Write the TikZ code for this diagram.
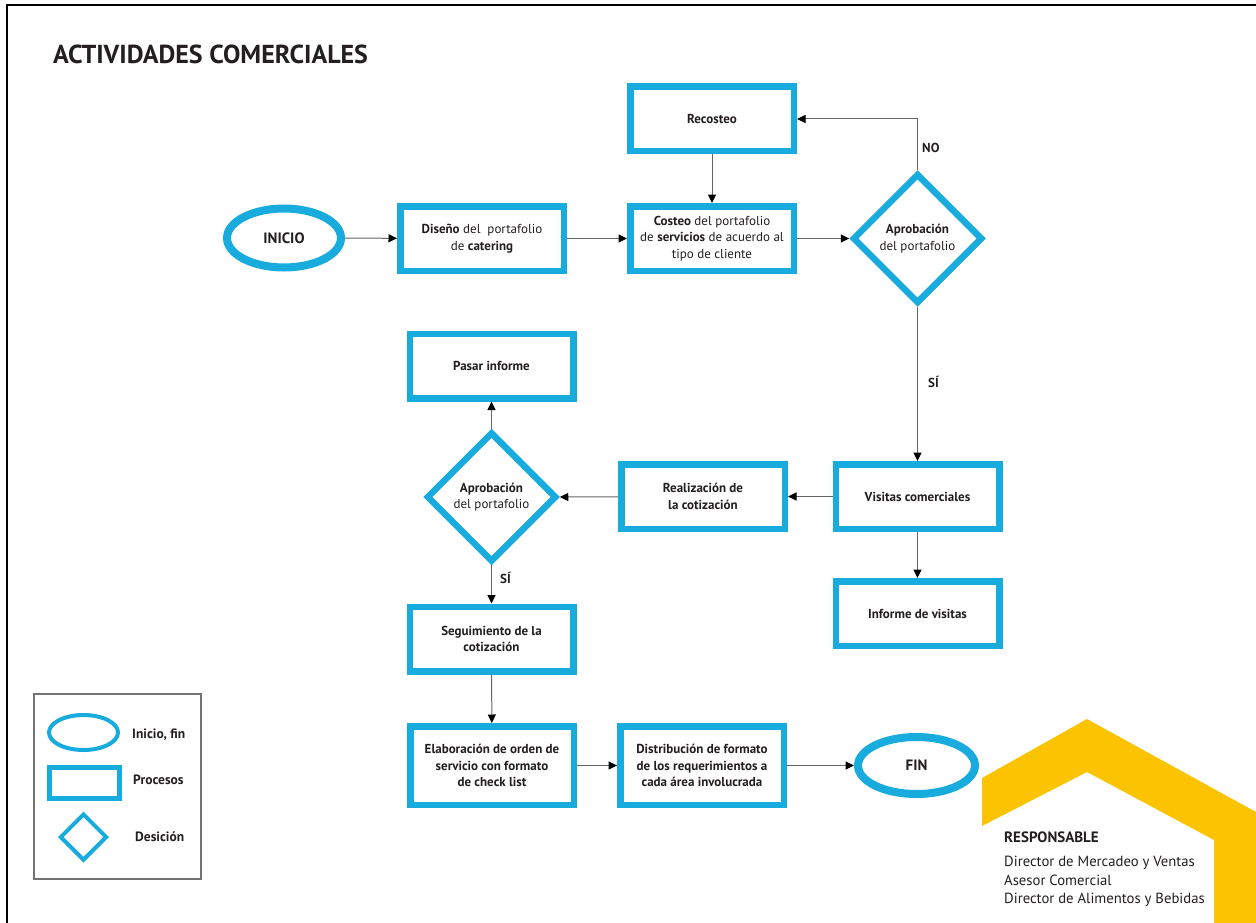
\documentclass[tikz,border=0pt]{standalone}
\usepackage{fontspec}
\setmainfont{PT Sans}
\usetikzlibrary{arrows.meta,shapes.geometric}
\definecolor{flowblue}{RGB}{24,171,222}
\definecolor{houseyellow}{RGB}{252,196,0}
\definecolor{ink}{RGB}{35,31,32}
\newcommand\flowfont{\fontsize{13}{16.7}\selectfont}
\tikzset{
  procbox/.style={draw=flowblue, line width=6.5pt, minimum width=163.5pt,
    minimum height=64.5pt, inner sep=2pt, align=center, text=ink, font=\flowfont},
  tallbox/.style={procbox, minimum height=78.5pt},
  termnode/.style={ellipse, draw=flowblue, line width=8pt, inner sep=0pt,
    text=ink, font=\fontsize{15}{18}\selectfont\bfseries},
  decision/.style={diamond, aspect=1, draw=flowblue, line width=6.5pt,
    minimum width=130pt, minimum height=130pt, inner sep=0pt, align=center,
    text=ink, font=\flowfont},
  flow/.style={draw=black!60, line width=1pt,
    -{Triangle[length=8.5pt,width=8pt,color=black]}},
  lbl/.style={anchor=west, text=ink, font=\fontsize{13}{15}\selectfont\bfseries, inner sep=0pt},
  legendtxt/.style={anchor=west, text=ink, font=\fontsize{13.5}{15}\selectfont\bfseries, inner sep=0pt}
}
\begin{document}
\begin{tikzpicture}[x=1pt,y=-1pt]
\useasboundingbox (0,0) rectangle (1256,923);
\fill[white] (0,0) rectangle (1256,923);

% page frame
\draw[line width=2pt] (7,923) -- (7,5) -- (1256,5);

% title
\node[anchor=west, text=ink, inner sep=0pt, font=\fontsize{26}{30}\selectfont\bfseries]
  (title) at (53,54) {ACTIVIDADES COMERCIALES};

% responsible corner shape
\fill[houseyellow] (982,826) -- (982,778) -- (1087,719) -- (1256,812) -- (1256,923)
  -- (1214,923) -- (1214,840) -- (1087,772) -- cycle;

% flow nodes
\node[termnode, minimum width=114pt, minimum height=59pt] (inicio) at (284,238) {INICIO};
\node[procbox] (diseno) at (482,238.5) {\textbf{Diseño} del \ portafolio\\de \textbf{catering}};
\node[procbox] (costeo) at (712,238.5) {\textbf{Costeo} del portafolio\\de \textbf{servicios} de acuerdo al\\tipo de cliente};
\node[procbox] (recosteo) at (712,119) {\textbf{Recosteo}};
\node[decision] (aprob1) at (917.5,238.5) {\textbf{Aprobación}\\del portafolio};
\node[procbox] (visitas) at (917.5,496.5) {\textbf{Visitas comerciales}};
\node[procbox] (informe) at (917.5,613.5) {\textbf{Informe de visitas}};
\node[procbox] (realiza) at (703,496.5) {\textbf{Realización de}\\\textbf{la cotización}};
\node[decision] (aprob2) at (491.5,497) {\textbf{Aprobación}\\del portafolio};
\node[procbox] (pasar) at (491.5,366) {\textbf{Pasar informe}};
\node[procbox] (seguim) at (491.5,639) {\textbf{Seguimiento de la}\\\textbf{cotización}};
\node[tallbox] (elabora) at (492,765.5) {\textbf{Elaboración de orden de}\\\textbf{servicio con formato}\\\textbf{de check list}};
\node[tallbox] (distrib) at (702,765.5) {\textbf{Distribución de formato}\\\textbf{de los requerimientos a}\\\textbf{cada área involucrada}};
\node[termnode, minimum width=117pt, minimum height=57pt] (fin) at (916.5,765.5) {FIN};

% connectors
\draw[flow] (inicio) -- (diseno);
\draw[flow] (diseno) -- (costeo);
\draw[flow] (recosteo) -- (costeo);
\draw[flow] (costeo) -- (aprob1);
\draw[flow] (aprob1.north) |- (recosteo.east);
\draw[flow] (aprob1.south) -- (visitas.north);
\draw[flow] (visitas) -- (informe);
\draw[flow] (visitas) -- (realiza);
\draw[flow] (realiza) -- (aprob2.east);
\draw[flow] (aprob2.north) -- (pasar.south);
\draw[flow] (aprob2.south) -- (seguim.north);
\draw[flow] (seguim) -- (elabora);
\draw[flow] (elabora) -- (distrib);
\draw[flow] (distrib) -- (fin);

% branch labels
\node[lbl] (lno) at (922,148) {NO};
\node[lbl] (lsi1) at (928,382) {SÍ};
\node[lbl] (lsi2) at (500,578) {SÍ};

% legend
\node[draw=black!55, line width=1.5pt, minimum width=167pt, minimum height=185pt,
  inner sep=0pt] (legend) at (117.5,786.5) {};
\node[ellipse, draw=flowblue, line width=4pt, minimum width=69pt, minimum height=35pt,
  inner sep=0pt] (legell) at (83.5,732.5) {};
\node[draw=flowblue, line width=5pt, minimum width=70pt, minimum height=31pt,
  inner sep=0pt] (legrect) at (84.5,783) {};
\node[diamond, aspect=1, draw=flowblue, line width=4pt, minimum width=47pt,
  minimum height=47pt, inner sep=0pt] (legdia) at (83.5,837) {};
\node[legendtxt] (tinicio) at (132,735) {Inicio, fin};
\node[legendtxt] (tproc) at (133,780) {Procesos};
\node[legendtxt] (tdes) at (135,837) {Desición};

% responsible block
\node[anchor=west, text=ink, inner sep=0pt, font=\fontsize{15}{17}\selectfont\bfseries]
  (resp) at (1004,837) {RESPONSABLE};
\node[anchor=north west, text=ink, inner sep=0pt, align=left,
  font=\fontsize{14.7}{18.5}\selectfont] (resplist) at (1004,856)
  {Director de Mercadeo y Ventas\\Asesor Comercial\\Director de Alimentos y Bebidas};
\end{tikzpicture}
\end{document}
